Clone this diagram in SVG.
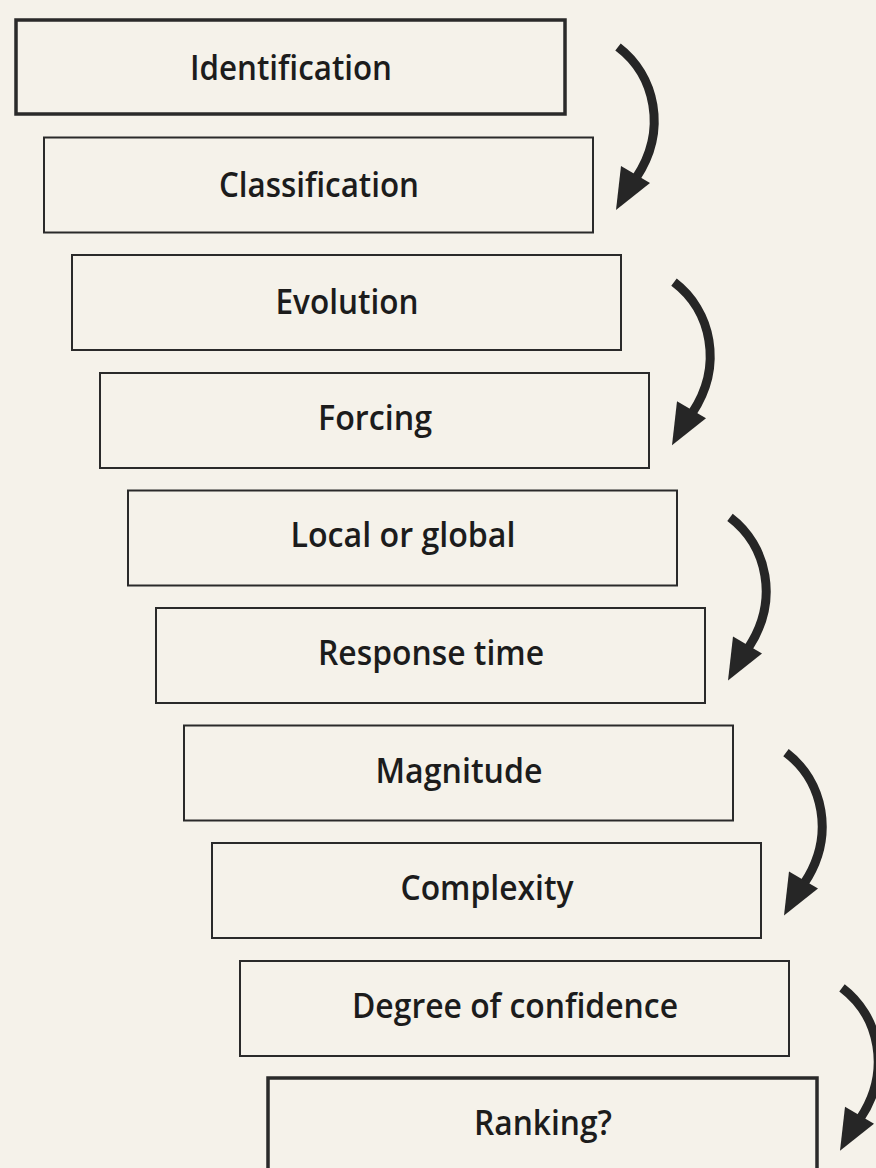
<svg xmlns="http://www.w3.org/2000/svg" xmlns:xlink="http://www.w3.org/1999/xlink" width="876" height="1168" viewBox="0 0 876 1168">
  <style>
    .box { fill: none; stroke: #2a2a2a; stroke-width: 2; }
    .thick { stroke-width: 3.5; }
    .label { font-family: "Open Sans", "Noto Sans", "DejaVu Sans", sans-serif; font-size: 34px; font-weight: 600; fill: #1c1c1c; text-anchor: middle; }
    .shaft { fill: none; stroke: #262626; stroke-width: 9; stroke-linecap: butt; }
    .head { fill: #262626; }
  </style>
  <defs>
    <g id="curvedArrow">
      <path class="shaft" d="M 618 47 C 655 75, 668 130, 636 178"/>
      <polygon class="head" points="616,210 650,183 621,166"/>
    </g>
  </defs>
  <rect x="0" y="0" width="876" height="1168" fill="#f5f2ea"/>

  <g id="node-identification">
    <rect class="box thick" x="16" y="20" width="549" height="94"/>
    <text class="label" x="291" y="80" textLength="202" lengthAdjust="spacingAndGlyphs">Identification</text>
  </g>
  <g id="node-classification">
    <rect class="box" x="44" y="137.5" width="549" height="95"/>
    <text class="label" x="319" y="197" textLength="200" lengthAdjust="spacingAndGlyphs">Classification</text>
  </g>
  <g id="node-evolution">
    <rect class="box" x="72" y="255" width="549" height="95"/>
    <text class="label" x="347" y="314" textLength="143" lengthAdjust="spacingAndGlyphs">Evolution</text>
  </g>
  <g id="node-forcing">
    <rect class="box" x="100" y="373" width="549" height="95"/>
    <text class="label" x="375" y="430" textLength="114" lengthAdjust="spacingAndGlyphs">Forcing</text>
  </g>
  <g id="node-local-or-global">
    <rect class="box" x="128" y="490.5" width="549" height="95"/>
    <text class="label" x="403" y="547" textLength="225" lengthAdjust="spacingAndGlyphs">Local or global</text>
  </g>
  <g id="node-response-time">
    <rect class="box" x="156" y="608" width="549" height="95"/>
    <text class="label" x="431" y="665" textLength="226" lengthAdjust="spacingAndGlyphs">Response time</text>
  </g>
  <g id="node-magnitude">
    <rect class="box" x="184" y="725.5" width="549" height="95"/>
    <text class="label" x="459" y="783" textLength="167" lengthAdjust="spacingAndGlyphs">Magnitude</text>
  </g>
  <g id="node-complexity">
    <rect class="box" x="212" y="843" width="549" height="95"/>
    <text class="label" x="487" y="900" textLength="173" lengthAdjust="spacingAndGlyphs">Complexity</text>
  </g>
  <g id="node-degree-of-confidence">
    <rect class="box" x="240" y="961" width="549" height="95"/>
    <text class="label" x="515" y="1018" textLength="326" lengthAdjust="spacingAndGlyphs">Degree of confidence</text>
  </g>
  <g id="node-ranking">
    <rect class="box thick" x="268" y="1078" width="549" height="100"/>
    <text class="label" x="543" y="1135" textLength="138" lengthAdjust="spacingAndGlyphs">Ranking?</text>
  </g>

  <g id="connectors">
    <use xlink:href="#curvedArrow" href="#curvedArrow"/>
    <use xlink:href="#curvedArrow" href="#curvedArrow" transform="translate(56,235.2)"/>
    <use xlink:href="#curvedArrow" href="#curvedArrow" transform="translate(112,470.4)"/>
    <use xlink:href="#curvedArrow" href="#curvedArrow" transform="translate(168,705.6)"/>
    <use xlink:href="#curvedArrow" href="#curvedArrow" transform="translate(224,940.8)"/>
  </g>
</svg>
